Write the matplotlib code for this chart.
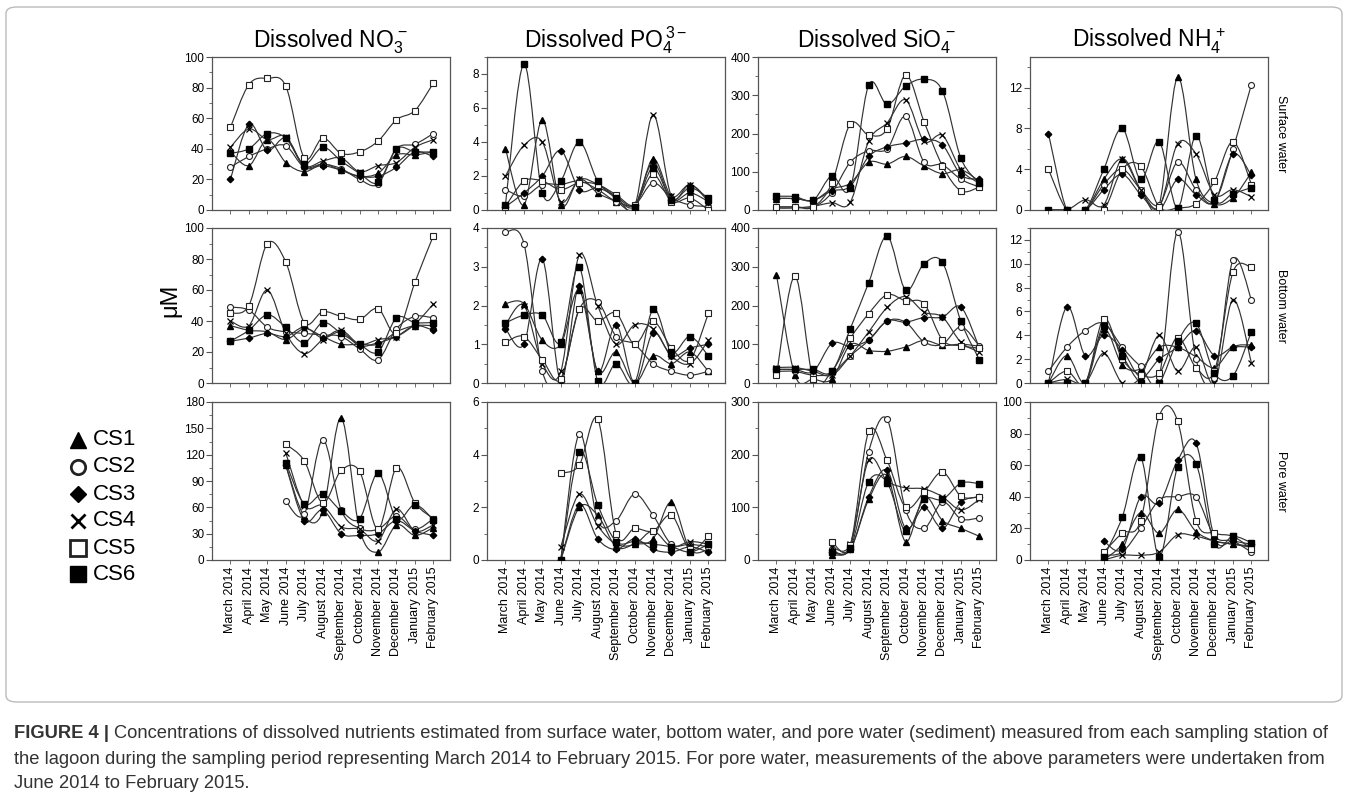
import numpy as np
import matplotlib
matplotlib.use('Agg')
import matplotlib.pyplot as plt
from matplotlib.path import Path
from matplotlib.patches import PathPatch, FancyBboxPatch

plt.rcParams['font.family'] = ['Liberation Sans', 'DejaVu Sans']
plt.rcParams['mathtext.fontset'] = 'custom'
plt.rcParams['mathtext.rm'] = 'Liberation Sans'
plt.rcParams['mathtext.it'] = 'Liberation Sans'
plt.rcParams['mathtext.bf'] = 'Liberation Sans:bold'

months = ['March 2014', 'April 2014', 'May 2014', 'June 2014', 'July 2014',
          'August 2014', 'September 2014', 'October 2014', 'November 2014',
          'December 2014', 'January 2015', 'February 2015']
stations = ['CS1', 'CS2', 'CS3', 'CS4', 'CS5', 'CS6']
titles = [r'Dissolved NO$_3^{\,-}$', r'Dissolved PO$_4^{\,3-}$',
          r'Dissolved SiO$_4^{\,-}$', r'Dissolved NH$_4^{\,+}$']
water_labels = ['Surface water', 'Bottom water', 'Pore water']
N = None

# ---- rows are stations CS1..CS6, columns are months March 2014..February 2015
no3_surface = [
    [38, 29, 46, 31, 25, 30, 26, 22, 24, 36, 36, 38],
    [28, 35, 40, 42, 28, 30, 27, 20, 17, 40, 43, 50],
    [20, 56, 39, 47, 28, 29, 26, 22, 22, 28, 38, 35],
    [41, 53, 46, 48, 29, 32, 34, 25, 29, 31, 41, 46],
    [54, 82, 86, 81, 34, 47, 37, 38, 45, 59, 65, 83],
    [37, 40, 50, 47, 30, 41, 32, 24, 18, 40, 38, 38],
]
no3_bottom = [
    [37, 34, 33, 28, 35, 30, 25, 25, 25, 33, 37, 37],
    [49, 47, 36, 33, 32, 31, 30, 22, 15, 35, 43, 42],
    [27, 29, 32, 30, 36, 29, 33, 24, 26, 30, 37, 34],
    [40, 37, 60, 32, 19, 28, 34, 25, 28, 30, 38, 51],
    [45, 50, 90, 78, 39, 46, 43, 41, 48, 32, 65, 95],
    [27, 34, 44, 36, 26, 39, 32, 25, 20, 42, 39, 39],
]
no3_pore = [
    [N, N, N, 108, 50, 55, 162, 35, 9, 40, 28, 37],
    [N, N, N, 67, 52, 137, 57, 36, 35, 50, 35, 47],
    [N, N, N, 108, 45, 57, 30, 28, 30, 45, 33, 28],
    [N, N, N, 122, 62, 62, 38, 35, 22, 58, 33, 40],
    [N, N, N, 132, 113, 65, 102, 101, 35, 105, 65, 47],
    [N, N, N, 111, 64, 75, 56, 47, 99, 47, 63, 46],
]
po4_surface = [
    [3.6, 0.3, 5.3, 0.3, 1.8, 1.0, 0.5, 0.1, 3.0, 0.8, 1.5, 0.6],
    [1.2, 0.8, 1.5, 1.5, 1.7, 1.2, 0.5, 0.3, 1.6, 0.7, 0.3, 0.2],
    [0.2, 1.0, 2.0, 3.5, 1.2, 1.3, 0.8, 0.3, 2.8, 0.6, 1.0, 0.5],
    [2.0, 3.8, 4.0, 0.5, 1.8, 1.5, 0.8, 0.2, 5.6, 0.8, 1.5, 0.5],
    [0.2, 1.7, 1.7, 1.2, 1.6, 1.5, 0.9, 0.3, 2.1, 0.5, 0.7, 0.0],
    [0.3, 8.6, 1.0, 1.7, 4.0, 1.7, 0.7, 0.2, 2.5, 0.6, 1.3, 0.7],
]
po4_bottom = [
    [2.05, 2.05, 1.1, 1.0, 2.4, 0.3, 0.8, 0.0, 0.7, 0.5, 0.8, 0.3],
    [3.9, 3.6, 0.3, 0.1, 1.9, 2.1, 1.2, 1.0, 0.5, 0.3, 0.2, 0.3],
    [1.4, 1.0, 3.2, 0.05, 2.5, 0.3, 1.5, 0.0, 1.3, 0.7, 0.9, 1.0],
    [1.5, 2.0, 0.5, 0.3, 3.3, 2.0, 1.0, 1.5, 1.4, 0.7, 0.5, 1.1],
    [1.05, 1.2, 0.6, 0.1, 1.9, 1.6, 1.8, 1.0, 1.6, 0.9, 0.6, 1.8],
    [1.55, 1.75, 1.75, 1.05, 3.0, 0.05, 0.5, 0.0, 1.9, 0.8, 1.2, 0.7],
]
po4_pore = [
    [N, N, N, 0.0, 2.0, 1.7, 0.5, 0.6, 0.8, 2.2, 0.4, 0.4],
    [N, N, N, 0.0, 4.8, 1.5, 1.5, 2.5, 1.7, 0.6, 0.6, 0.5],
    [N, N, N, 0.0, 2.1, 0.8, 0.4, 0.8, 0.4, 0.3, 0.5, 0.3],
    [N, N, N, 0.5, 2.5, 1.3, 0.6, 0.6, 1.1, 0.5, 0.7, 0.6],
    [N, N, N, 3.3, 3.6, 5.35, 1.0, 1.2, 1.1, 1.7, 0.4, 0.9],
    [N, N, N, 0.0, 4.1, 2.1, 0.7, 0.7, 0.6, 0.5, 0.3, 0.6],
]
sio4_surface = [
    [30, 30, 25, 55, 70, 125, 120, 140, 115, 95, 105, 75],
    [8, 8, 8, 45, 125, 155, 160, 245, 125, 118, 80, 60],
    [30, 30, 25, 50, 62, 140, 165, 175, 185, 170, 92, 80],
    [5, 5, 10, 19, 20, 180, 228, 288, 180, 195, 105, 70],
    [8, 8, 8, 70, 225, 196, 212, 353, 231, 115, 50, 60],
    [36, 35, 26, 89, 57, 327, 276, 324, 342, 311, 135, 70],
]
sio4_bottom = [
    [280, 20, 10, 10, 99, 84, 82, 93, 110, 97, 100, 95],
    [30, 30, 20, 25, 70, 110, 160, 157, 106, 100, 145, 95],
    [35, 35, 30, 102, 95, 111, 160, 157, 169, 170, 196, 90],
    [40, 40, 30, 20, 70, 132, 195, 223, 183, 170, 105, 80],
    [20, 276, 10, 30, 115, 179, 228, 212, 205, 111, 96, 90],
    [35, 35, 35, 30, 140, 259, 379, 240, 308, 311, 159, 60],
]
sio4_pore = [
    [N, N, N, 10, 20, 115, 160, 35, 120, 75, 60, 45],
    [N, N, N, 20, 25, 206, 267, 95, 60, 110, 78, 80],
    [N, N, N, 15, 20, 120, 170, 60, 100, 60, 110, 120],
    [N, N, N, 25, 30, 190, 150, 137, 135, 120, 95, 115],
    [N, N, N, 35, 28, 244, 189, 100, 129, 167, 121, 120],
    [N, N, N, 15, 22, 149, 147, 55, 115, 115, 146, 145],
]
nh4_surface = [
    [0, 0, 0, 3.0, 5.0, 2.0, 0.5, 13.0, 3.0, 0.6, 1.2, 3.7],
    [0, 0, 0, 2.5, 4.0, 2.0, 0.5, 4.7, 2.0, 0.8, 6.0, 12.3],
    [7.5, 0, 0, 2.0, 3.5, 1.5, 0.0, 3.0, 1.5, 0.8, 5.5, 3.4],
    [0, 0, 1.0, 0.5, 5.0, 2.0, 0.3, 6.5, 5.5, 1.5, 2.0, 1.3],
    [4.0, 0, 0, 0.0, 4.0, 4.3, 0.3, 0.2, 0.6, 2.8, 6.7, 2.5],
    [0, 0, 0, 4.0, 8.0, 3.0, 6.7, 0.2, 7.3, 1.0, 1.6, 2.2],
]
nh4_bottom = [
    [0, 2.3, 0, 4.5, 1.5, 1.2, 3.0, 3.0, 2.2, 1.3, 3.0, 3.2],
    [1.0, 3.0, 4.4, 5.0, 3.0, 1.4, 0.5, 12.7, 2.0, 0.4, 10.3, 7.0],
    [0, 6.4, 2.3, 4.0, 2.8, 0.5, 2.0, 3.0, 4.4, 2.3, 3.0, 3.0],
    [0, 0.3, 0, 2.5, 0, 0.5, 4.0, 1.0, 3.0, 0, 7.0, 1.7],
    [0, 1.0, 0, 5.4, 2.0, 0.7, 0.8, 3.8, 1.3, 1.0, 9.3, 9.7],
    [0, 0, 0, 4.8, 2.3, 0, 0, 3.5, 5.0, 0.8, 0.6, 4.3],
]
nh4_pore = [
    [N, N, N, 0, 10, 30, 17, 32, 18, 12, 10, 8],
    [N, N, N, 3, 5, 20, 38, 40, 40, 15, 12, 5],
    [N, N, N, 12, 7, 40, 36, 63, 74, 14, 12, 10],
    [N, N, N, 0, 3, 3, 5, 16, 15, 12, 10, 9],
    [N, N, N, 5, 17, 25, 91, 88, 25, 17, 15, 7],
    [N, N, N, 2, 27, 65, 2, 59, 61, 10, 15, 11],
]

panels = [
    [no3_surface, po4_surface, sio4_surface, nh4_surface],
    [no3_bottom, po4_bottom, sio4_bottom, nh4_bottom],
    [no3_pore, po4_pore, sio4_pore, nh4_pore],
]
ylims = [[100, 9, 400, 15], [100, 4, 400, 13], [180, 6, 300, 100]]
ysteps = [[20, 2, 100, 4], [20, 1, 100, 2], [30, 2, 100, 20]]

marker_styles = [
    dict(marker='^', mfc='black', mec='black', ms=4.6),
    dict(marker='o', mfc='white', mec='#222', ms=4.3, mew=0.8),
    dict(marker='D', mfc='black', mec='black', ms=3.3),
    dict(marker='x', mfc='black', mec='black', ms=4.0, mew=0.9),
    dict(marker='s', mfc='white', mec='#222', ms=4.8, mew=0.8),
    dict(marker='s', mfc='black', mec='black', ms=4.8),
]

W, H = 1349, 796
fig = plt.figure(figsize=(W / 100, H / 100), dpi=100)

col_left = [212, 487, 758, 1030]
col_w = 238
row_tb = [(57, 210), (228, 383), (402, 560)]


def smooth_patch(xs, ys):
    pts = np.array([(x, y) for x, y in zip(xs, ys) if y is not None], dtype=float)
    n = len(pts)
    verts = [pts[0]]
    codes = [Path.MOVETO]
    for i in range(n - 1):
        p0 = pts[i - 1] if i > 0 else pts[i]
        p1 = pts[i]
        p2 = pts[i + 1]
        p3 = pts[i + 2] if i + 2 < n else pts[i + 1]
        c1 = p1 + (p2 - p0) / 6.0
        c2 = p2 - (p3 - p1) / 6.0
        verts += [c1, c2, p2]
        codes += [Path.CURVE4] * 3
    return PathPatch(Path(verts, codes), fill=False, ec='#333', lw=0.85, zorder=2)


x = np.arange(len(months))
for r in range(3):
    top, bot = row_tb[r]
    for c in range(4):
        ax = fig.add_axes([col_left[c] / W, 1 - bot / H, col_w / W, (bot - top) / H])
        data = panels[r][c]
        for s in range(6):
            ys = data[s]
            ax.add_patch(smooth_patch(x, ys))
            xv = [xx for xx, yy in zip(x, ys) if yy is not None]
            yv = [yy for yy in ys if yy is not None]
            ax.plot(xv, yv, ls='none', zorder=3, **marker_styles[s])
        ax.set_xlim(-1, 11.9)
        ax.set_ylim(0, ylims[r][c])
        step = ysteps[r][c]
        ax.set_yticks(np.arange(0, ylims[r][c] + 1e-9, step))
        ax.set_yticks(np.arange(step / 2, ylims[r][c] + 1e-9, step), minor=True)
        ax.set_xticks(x)
        if r == 2:
            ax.set_xticklabels(months, rotation=90, fontsize=9)
        else:
            ax.set_xticklabels([])
        ax.tick_params(axis='y', labelsize=8.5, length=4, width=0.8, color='#555', pad=1.5)
        ax.tick_params(axis='y', which='minor', length=2, width=0.6, color='#555')
        ax.tick_params(axis='x', length=3, width=0.6, color='#555', pad=2)
        for sp in ax.spines.values():
            sp.set_color('#555')
            sp.set_linewidth(0.9)
        if r == 0:
            ax.set_title(titles[c], fontsize=16.5, pad=7)
        if c == 3:
            ax.text(1.03, 0.5, water_labels[r], transform=ax.transAxes, rotation=-90,
                    ha='left', va='center', fontsize=9)

fig.text(170 / W, 1 - 300 / H, 'μM', rotation=90, fontsize=17, ha='center', va='center')

legend_y = [440, 467, 494, 521, 548, 574]
for s in range(6):
    yy = 1 - legend_y[s] / H
    fig.lines.append(plt.Line2D([78 / W], [yy], transform=fig.transFigure, ls='none',
                                **{**marker_styles[s], 'ms': marker_styles[s]['ms'] * 2.4,
                                   'mew': 2.0 if s in (1, 3, 4) else 1}))
    fig.text(93 / W, yy, stations[s], fontsize=16, ha='left', va='center')

box = FancyBboxPatch((6 / W, 1 - 702 / H), 1336 / W, 695 / H,
                     boxstyle='round,pad=0,rounding_size=0.008', transform=fig.transFigure,
                     fill=False, ec='#bbbbbb', lw=1.0)
fig.patches.append(box)

cap_color = '#333333'
cap_fs = 13.2
t1 = fig.text(14 / W, 1 - 733 / H, 'FIGURE 4 |', fontsize=cap_fs, fontweight='bold',
              color=cap_color, ha='left', va='center')
fig.canvas.draw()
bb = t1.get_window_extent()
fig.text((bb.x1 + 5) / W, 1 - 733 / H,
         'Concentrations of dissolved nutrients estimated from surface water, bottom water, '
         'and pore water (sediment) measured from each sampling station of',
         fontsize=cap_fs, color=cap_color, ha='left', va='center')
fig.text(14 / W, 1 - 759 / H,
         'the lagoon during the sampling period representing March 2014 to February 2015. '
         'For pore water, measurements of the above parameters were undertaken from',
         fontsize=cap_fs, color=cap_color, ha='left', va='center')
fig.text(14 / W, 1 - 784 / H, 'June 2014 to February 2015.',
         fontsize=cap_fs, color=cap_color, ha='left', va='center')

fig.savefig('out.png', dpi=100)
